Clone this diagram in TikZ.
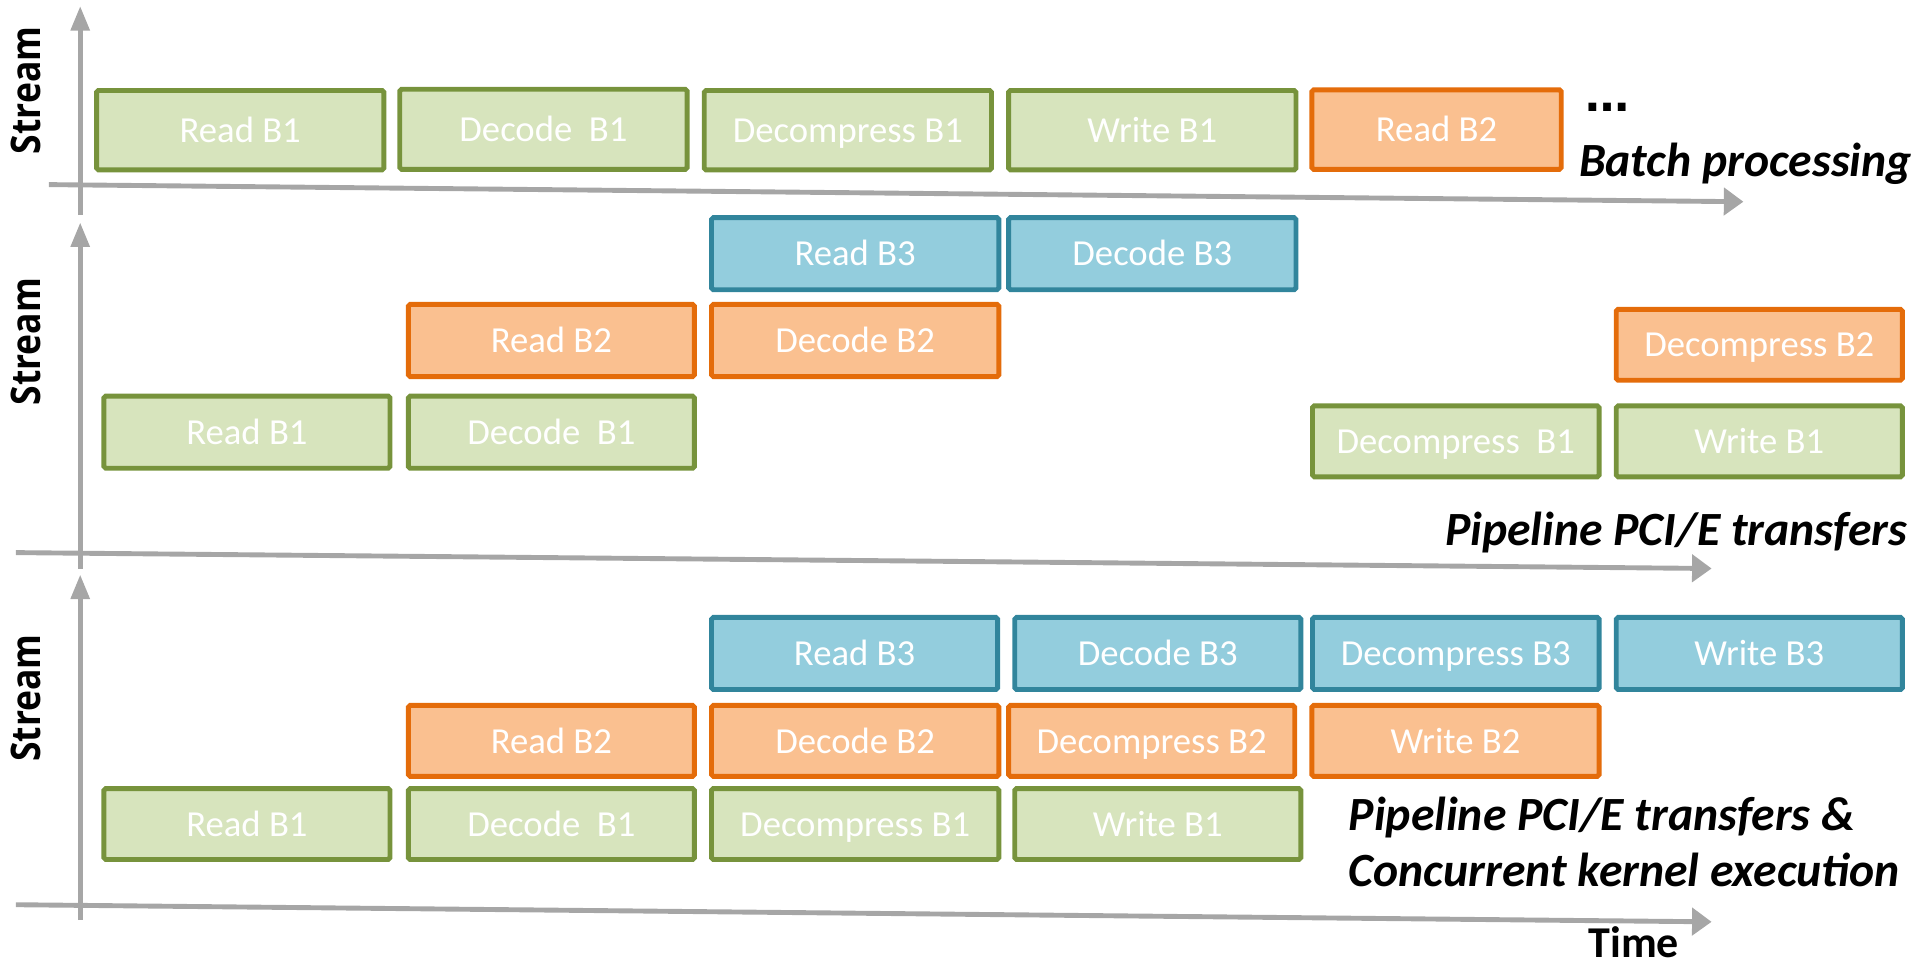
\documentclass[tikz,border=0pt]{standalone}
\usepackage{fontspec}
\usepackage{graphicx}
\setmainfont{Carlito}
\newfontfamily\streamfont{Open Sans}
\newfontfamily\dotfont{DejaVu Sans}
\usetikzlibrary{arrows.meta}

\definecolor{gfill}{HTML}{D7E4BD}
\definecolor{gline}{HTML}{77933C}
\definecolor{ofill}{HTML}{FAC090}
\definecolor{oline}{HTML}{E46C0A}
\definecolor{bfill}{HTML}{93CDDD}
\definecolor{bline}{HTML}{31859C}
\definecolor{axisgray}{HTML}{A6A6A6}

% one coloured task bar: style, name, left, right, top, bottom, text
\newcommand\tbox[7]{%
  \node[#1, minimum width={#4-#3-4}, minimum height={#6-#5-4}] (#2)
    at ({(#3+#4)/2},{(#5+#6)/2}) {#7};}

\tikzset{
  taskbox/.style={draw, line width=4pt, rounded corners=1.5pt, inner sep=0pt,
    text height=20pt, text depth=0pt,
    text=white, font=\fontsize{30}{36}\selectfont},
  gbox/.style={taskbox, draw=gline, fill=gfill},
  obox/.style={taskbox, draw=oline, fill=ofill},
  bbox/.style={taskbox, draw=bline, fill=bfill},
  axisline/.style={draw=axisgray, line width=4pt},
  vaxis/.style={axisline, -{Triangle[length=20pt,width=15pt]}},
  haxis/.style={axisline, -{Triangle[length=16pt,width=22pt]}},
  caption/.style={inner sep=0pt, font=\fontsize{39}{46}\selectfont\bfseries\itshape},
  streamlabel/.style={inner sep=0pt, rotate=90,
    font=\fontsize{29}{34}\selectfont\streamfont\bfseries},
}

\begin{document}
\begin{tikzpicture}[x=1pt,y=-1pt]
\useasboundingbox (0,0) rectangle (1568,790);

% ---------- axes ----------
\coordinate (v1b) at (65.6,176);   \coordinate (v1t) at (65.6,5);
\coordinate (h1l) at (40,151);     \coordinate (h1r) at (1426,165);
\coordinate (v2b) at (65.6,465);   \coordinate (v2t) at (65.6,182);
\coordinate (h2l) at (13,452);     \coordinate (h2r) at (1400,465);
\coordinate (v3b) at (65.6,752.5); \coordinate (v3t) at (65.6,470);
\coordinate (h3l) at (13,740);     \coordinate (h3r) at (1400,754);

\draw[vaxis] (v1b) -- (v1t);
\draw[haxis] (h1l) -- (h1r);
\draw[vaxis] (v2b) -- (v2t);
\draw[haxis] (h2l) -- (h2r);
\draw[vaxis] (v3b) -- (v3t);
\draw[haxis] (h3l) -- (h3r);

\node[streamlabel] (st1) at (21.5,74) {\scalebox{1}[1.15]{Stream}};
\node[streamlabel] (st2) at (21.5,279.5) {\scalebox{1}[1.15]{Stream}};
\node[streamlabel] (st3) at (21.5,571) {\scalebox{1}[1.15]{Stream}};

% ---------- batch processing ----------
\tbox{gbox}{a1}{77}{316}{72}{141}{Read B1}
\tbox{gbox}{a2}{325}{564}{71}{140.5}{Decode~ B1}
\tbox{gbox}{a3}{574}{813}{72}{141}{Decompress B1}
\tbox{gbox}{a4}{823}{1062}{72}{141}{Write B1}
\tbox{obox}{a5}{1071}{1279}{71.5}{140.5}{Read B2}
\node[inner sep=0pt, anchor=base west, font=\fontsize{36}{42}\selectfont\dotfont\bfseries]
  (dots) at (1297,91.5) {…};
\node[caption, anchor=base east] (cap1) at (1564,144.5) {Batch processing};

% ---------- pipelined transfers ----------
\tbox{bbox}{b31}{580}{819}{176}{239}{Read B3}
\tbox{bbox}{b32}{823}{1062}{176}{239}{Decode B3}
\tbox{obox}{b21}{332}{570}{247}{310}{Read B2}
\tbox{obox}{b22}{580}{819}{247}{310}{Decode B2}
\tbox{obox}{b23}{1320}{1558}{251}{313}{Decompress B2}
\tbox{gbox}{b11}{83}{321}{322}{385}{Read B1}
\tbox{gbox}{b12}{332}{570}{322}{385}{Decode~ B1}
\tbox{gbox}{b13}{1071.5}{1310}{330}{392}{Decompress~ B1}
\tbox{gbox}{b14}{1320}{1558}{330}{392}{Write B1}
\node[caption, anchor=base east] (cap2) at (1560,446) {Pipeline PCI/E transfers};

% ---------- pipelined transfers and concurrent kernels ----------
\tbox{bbox}{c31}{580}{818}{503}{566}{Read B3}
\tbox{bbox}{c32}{828}{1066}{503}{566}{Decode B3}
\tbox{bbox}{c33}{1071.5}{1310}{503}{566}{Decompress B3}
\tbox{bbox}{c34}{1320}{1558}{503}{566}{Write B3}
\tbox{obox}{c21}{332}{570}{575}{637}{Read B2}
\tbox{obox}{c22}{580}{819}{575}{637}{Decode B2}
\tbox{obox}{c23}{823}{1061}{575}{637}{Decompress B2}
\tbox{obox}{c24}{1071}{1310}{575}{637}{Write B2}
\tbox{gbox}{c11}{83}{321}{643}{705}{Read B1}
\tbox{gbox}{c12}{332}{570}{643}{705}{Decode~ B1}
\tbox{gbox}{c13}{580}{819}{643}{705}{Decompress B1}
\tbox{gbox}{c14}{828}{1066}{643}{705}{Write B1}
\node[caption, anchor=base west] (cap3a) at (1103,679) {Pipeline PCI/E transfers \&};
\node[caption, anchor=base west] (cap3b) at (1103,725.5) {Concurrent kernel execution};

\node[inner sep=0pt, anchor=base west, font=\fontsize{36}{42}\selectfont\bfseries]
  (time) at (1299,783) {Time};
\end{tikzpicture}
\end{document}
